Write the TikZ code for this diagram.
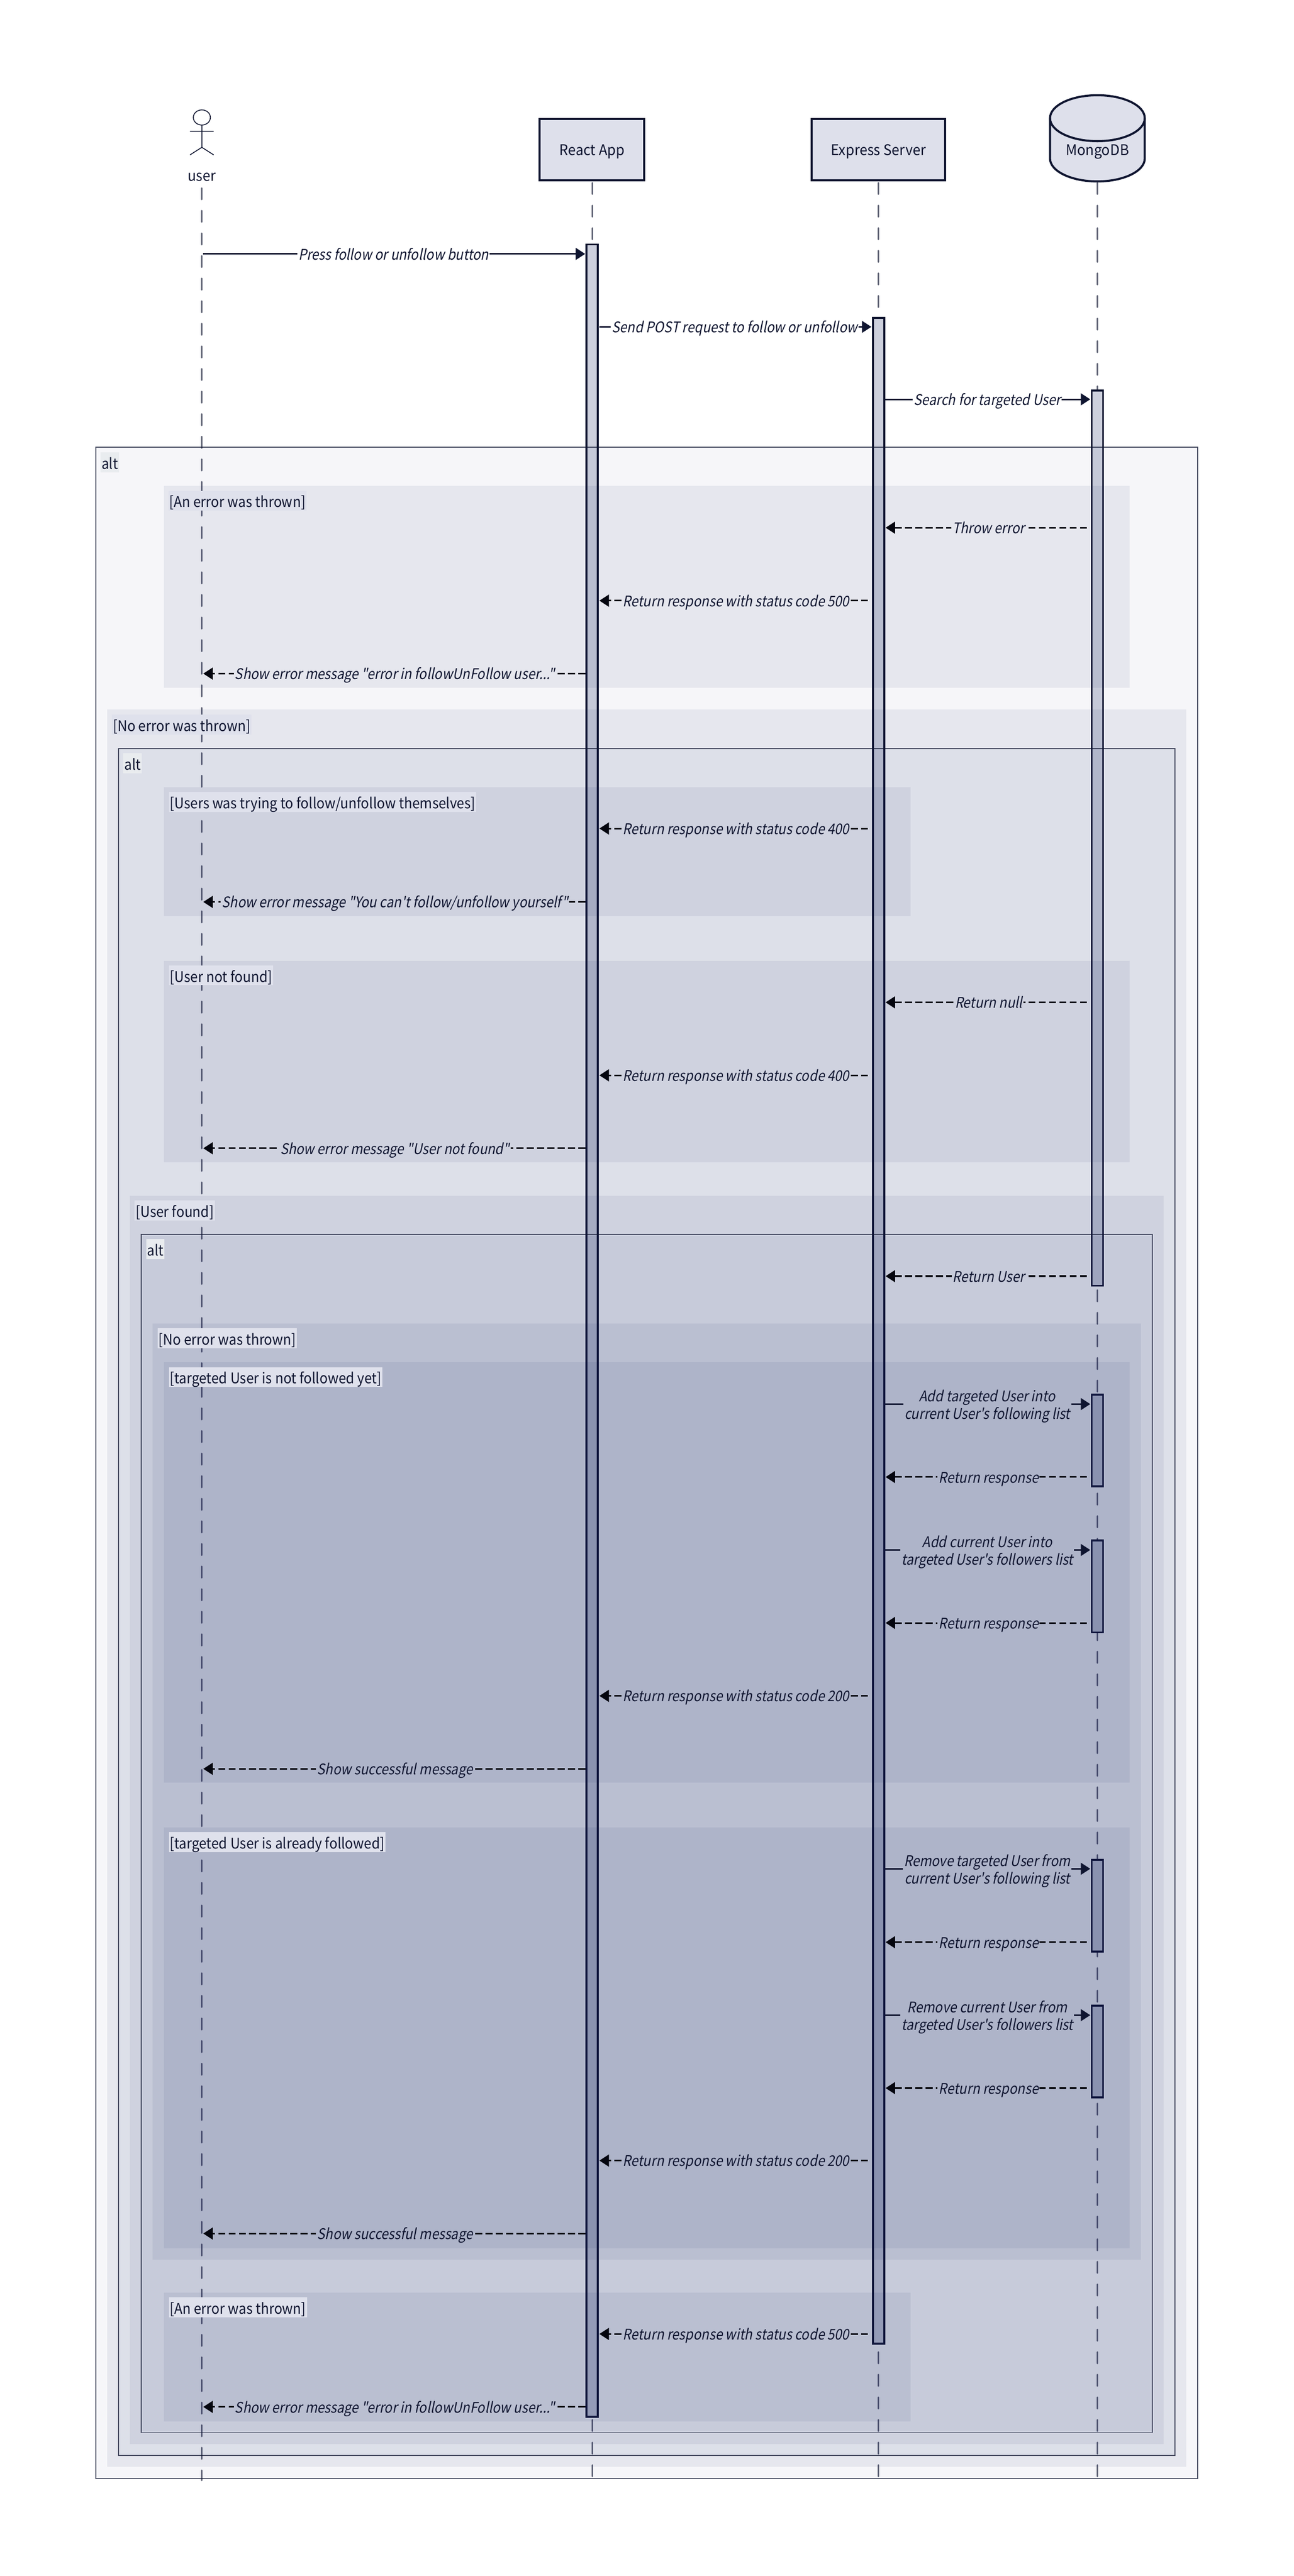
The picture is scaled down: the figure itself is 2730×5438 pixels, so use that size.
\documentclass[tikz,border=0pt]{standalone}
\usepackage{fontspec}
\usetikzlibrary{calc,arrows.meta}
\newfontfamily\upf[FakeStretch=0.95]{Noto Sans CJK SC}
\newfontfamily\frf[FakeStretch=0.92]{Noto Sans CJK SC}
\newfontfamily\slf[FakeSlant=0.2,FakeStretch=0.89]{Noto Sans CJK SC}
\definecolor{ink}{HTML}{0F1530}
\definecolor{dashink}{HTML}{05060F}
\definecolor{tint}{HTML}{0F2060}
\definecolor{boxfill}{HTML}{DEE0EB}
\definecolor{actfill}{HTML}{CDD0DD}
\definecolor{altlab}{HTML}{E9ECEF}
\definecolor{seclab}{HTML}{DFE1EC}
\tikzset{
  lifeln/.style={draw=ink,draw opacity=.65,line width=1.6pt,line cap=round,dash pattern=on 12pt off 11.85pt},
  actorbox/.style={draw=ink,fill=boxfill,line width=2.2pt,inner sep=0pt,outer sep=0pt,text=ink,text height=13pt,text depth=1.8pt,font=\upf\fontsize{15.5}{18.5}\selectfont},
  actorlab/.style={inner sep=0pt,text=ink,font=\upf\fontsize{15.5}{18.5}\selectfont},
  actbar/.style={draw=ink,fill=actfill,line width=2.1pt,inner sep=0pt,outer sep=0pt,minimum width=12pt},
  altbox/.style={fill=tint,fill opacity=.041,draw=ink,draw opacity=.5,line width=1pt},
  secbox/.style={fill=tint,fill opacity=.072},
  framelab/.style={anchor=west,inner xsep=1pt,inner ysep=0pt,minimum height=21pt,text=ink,text height=14.5pt,text depth=.5pt,font=\frf\fontsize{15.5}{18.5}\selectfont},
  altlabel/.style={framelab,fill=altlab},
  seclabel/.style={framelab,fill=seclab},
  msgone/.style={inner xsep=1pt,inner ysep=0pt,text=ink,text height=11.6pt,text depth=3.9pt,font=\slf\fontsize{15.5}{18.5}\selectfont},
  msgtwo/.style={inner xsep=1pt,inner ysep=0pt,text=ink,align=center,font=\slf\fontsize{15.5}{18.5}\selectfont},
  solidmsg/.style={draw=ink,line width=1.7pt},
  dashmsg/.style={draw=dashink,line width=1.7pt},
  headtip/.style={-{Triangle[length=10pt,width=12.5pt,sep=0pt]}},
}
% rightward solid message: name, source, target, y
\newcommand{\msgR}[4]{%
  \coordinate (#1-y) at (0,#4);
  \coordinate (#1-s) at (#2 |- #1-y);
  \coordinate (#1-a) at ($(#1-s)+(3,0)$);
  \coordinate (#1-b) at ($(#3 |- #1-y)+(-3,0)$);
}
\newcommand{\msgRt}[3]{%
  \node[#1] (#2-l) at ($(#2-s)!.5!(#2-b)+(0,4.5)$) {#3};
  \draw[solidmsg] (#2-a) -- (#2-l.west |- #2-y);
  \draw[solidmsg,headtip] (#2-l.east |- #2-y) -- (#2-b);
}
% leftward dashed message: name, source, source offset, target, y
\newcommand{\msgL}[5]{%
  \coordinate (#1-y) at (0,#5);
  \coordinate (#1-s) at (#2 |- #1-y);
  \coordinate (#1-a) at ($(#1-s)+(#3,0)$);
  \coordinate (#1-b) at ($(#4 |- #1-y)+(3,0)$);
}
\newcommand{\msgLt}[2]{%
  \node[msgone] (#1-l) at ($(#1-s)!.5!(#1-b)+(0,4.5)$) {#2};
  \draw[dashmsg,dash pattern=on 7.4pt off 3.45pt] (#1-a) -- (#1-l.east |- #1-y);
  \path let \p1=($(#1-a)-(#1-l.west |- #1-y)$) in \pgfextra{\pgfmathparse{mod(abs(\x1),10.85)}\xdef\msgph{\pgfmathresult}};
  \draw[dashmsg,headtip,dash pattern=on 7.4pt off 3.45pt,dash phase=\msgph pt] (#1-l.west |- #1-y) -- (#1-b);
}
\newcommand{\actnode}[4]{%
  \pgfmathsetmacro\acth{(#4-#3)/2}\pgfmathsetmacro\actc{(#4+#3)/2}%
  \node[actbar,minimum height=\acth pt] (#1) at (#2,\actc) {};
}
\begin{document}
\begin{tikzpicture}[x=0.5pt,y=-0.5pt]
\useasboundingbox (0,0) rectangle (2730,5438);
% participants
\draw[line width=.9pt,draw=ink] (426,248) ellipse [x radius=9pt,y radius=8pt];
\draw[line width=.9pt,draw=ink] (426,264) -- (426,311) (401,277) -- (451,277) (401,327) -- (426,311) -- (451,327);
\node[actorlab] (uLabel) at (426,374) {user};
\node[actorbox,minimum width=110.5pt,minimum height=64.75pt] (rBox) at (1249.5,316.25) {React App};
\node[actorbox,minimum width=141pt,minimum height=64.75pt] (eBox) at (1854,316.25) {Express Server};
\draw[draw=ink,fill=boxfill,line width=2.2pt] (2216,249.5) .. controls (2216,222.5) and (2261,201) .. (2316,201) .. controls (2371,201) and (2416,222.5) .. (2416,249.5) -- (2416,334.5) .. controls (2416,361.5) and (2371,383) .. (2316,383) .. controls (2261,383) and (2216,361.5) .. (2216,334.5) -- cycle;
\draw[line width=2.2pt,draw=ink] (2216,249.5) .. controls (2216,276.5) and (2261,298) .. (2316,298) .. controls (2371,298) and (2416,276.5) .. (2416,249.5);
\node[actorlab] (mLabel) at (2316,320) {MongoDB};
% lifelines
\coordinate (uTop) at (426,397);
\coordinate (uEnd) at (426,5236);
\coordinate (rTop) at (1250,386);
\coordinate (rEnd) at (1250,5228);
\coordinate (eTop) at (1854,386);
\coordinate (eEnd) at (1854,5228);
\coordinate (mTop) at (2316,386);
\coordinate (mEnd) at (2316,5228);
\draw[lifeln] (uTop) -- (uEnd);
\draw[lifeln] (rTop) -- (rEnd);
\draw[lifeln] (eTop) -- (eEnd);
\draw[lifeln] (mTop) -- (mEnd);
% activations
\actnode{rA}{1250}{516}{5102}
\actnode{eA}{1854}{671}{4947}
\actnode{mA}{2316}{824}{2714}
\actnode{mB}{2316}{2944}{3138}
\actnode{mC}{2316}{3252}{3446}
\actnode{mD}{2316}{3926}{4120}
\actnode{mE}{2316}{4234}{4428}
% frames
\fill[altbox] (202,944) rectangle (2528,5232);
\draw[altbox,fill opacity=0] (202,944) rectangle (2528,5232);
\fill[secbox] (346,1026) rectangle (2384,1452);
\fill[secbox] (226,1498) rectangle (2504,5207);
\fill[altbox] (250,1580) rectangle (2480,5183);
\draw[altbox,fill opacity=0] (250,1580) rectangle (2480,5183);
\fill[secbox] (346,1662) rectangle (1922,1934);
\fill[secbox] (346,2028) rectangle (2384,2454);
\fill[secbox] (274,2524) rectangle (2456,5159);
\fill[altbox] (298,2606) rectangle (2432,5135);
\draw[altbox,fill opacity=0] (298,2606) rectangle (2432,5135);
\fill[secbox] (322,2794) rectangle (2408,4770);
\fill[secbox] (346,2876) rectangle (2384,3763);
\fill[secbox] (346,3858) rectangle (2384,4746);
\fill[secbox] (346,4840) rectangle (1922,5112);
% frame labels
\node[altlabel] (fa1) at (212,976) {alt};
\node[seclabel] (fs1) at (355,1057) {[An error was thrown]};
\node[seclabel] (fs2) at (236,1530) {[No error was thrown]};
\node[altlabel] (fa2) at (260,1611) {alt};
\node[seclabel] (fs3) at (356,1693) {[Users was trying to follow/unfollow themselves]};
\node[seclabel] (fs4) at (356,2059) {[User not found]};
\node[seclabel] (fs5) at (284,2555) {[User found]};
\node[altlabel] (fa3) at (308,2637) {alt};
\node[seclabel] (fs6) at (332,2825) {[No error was thrown]};
\node[seclabel] (fs7) at (356,2907) {[targeted User is not followed yet]};
\node[seclabel] (fs8) at (356,3889) {[targeted User is already followed]};
\node[seclabel] (fs9) at (356,4871) {[An error was thrown]};
% messages
\msgR{m01}{uTop}{rA.west}{536}\msgRt{msgone}{m01}{Press follow or unfollow button}
\msgR{m02}{rA.east}{eA.west}{690}\msgRt{msgone}{m02}{Send POST request to follow or unfollow}
\msgR{m03}{eA.east}{mA.west}{843}\msgRt{msgone}{m03}{Search for targeted User}
\msgL{m04}{mA.west}{-10}{eA.east}{1114}\msgLt{m04}{Throw error}
\msgL{m05}{eA.west}{-10}{rA.east}{1268}\msgLt{m05}{Return response with status code 500}
\msgL{m06}{rA.west}{-3}{uTop}{1422}\msgLt{m06}{Show error message "error in followUnFollow user..."}
\msgL{m07}{eA.west}{-10}{rA.east}{1749}\msgLt{m07}{Return response with status code 400}
\msgL{m08}{rA.west}{-3}{uTop}{1904}\msgLt{m08}{Show error message "You can't follow/unfollow yourself"}
\msgL{m09}{mA.west}{-10}{eA.east}{2116}\msgLt{m09}{Return null}
\msgL{m10}{eA.west}{-10}{rA.east}{2270}\msgLt{m10}{Return response with status code 400}
\msgL{m11}{rA.west}{-3}{uTop}{2424}\msgLt{m11}{Show error message "User not found"}
\msgL{m12}{mA.west}{-10}{eA.east}{2694}\msgLt{m12}{Return User}
\msgR{m13}{eA.east}{mB.west}{2964}\msgRt{msgtwo}{m13}{Add targeted User into\\current User's following list}
\msgL{m14}{mB.west}{-10}{eA.east}{3118}\msgLt{m14}{Return response}
\msgR{m15}{eA.east}{mC.west}{3272}\msgRt{msgtwo}{m15}{Add current User into\\targeted User's followers list}
\msgL{m16}{mC.west}{-10}{eA.east}{3426}\msgLt{m16}{Return response}
\msgL{m17}{eA.west}{-10}{rA.east}{3580}\msgLt{m17}{Return response with status code 200}
\msgL{m18}{rA.west}{-3}{uTop}{3734}\msgLt{m18}{Show successful message}
\msgR{m19}{eA.east}{mD.west}{3945}\msgRt{msgtwo}{m19}{Remove targeted User from\\current User's following list}
\msgL{m20}{mD.west}{-10}{eA.east}{4100}\msgLt{m20}{Return response}
\msgR{m21}{eA.east}{mE.west}{4254}\msgRt{msgtwo}{m21}{Remove current User from\\targeted User's followers list}
\msgL{m22}{mE.west}{-10}{eA.east}{4408}\msgLt{m22}{Return response}
\msgL{m23}{eA.west}{-10}{rA.east}{4561}\msgLt{m23}{Return response with status code 200}
\msgL{m24}{rA.west}{-3}{uTop}{4715}\msgLt{m24}{Show successful message}
\msgL{m25}{eA.west}{-10}{rA.east}{4927}\msgLt{m25}{Return response with status code 500}
\msgL{m26}{rA.west}{-3}{uTop}{5081}\msgLt{m26}{Show error message "error in followUnFollow user..."}
\end{tikzpicture}
\end{document}
